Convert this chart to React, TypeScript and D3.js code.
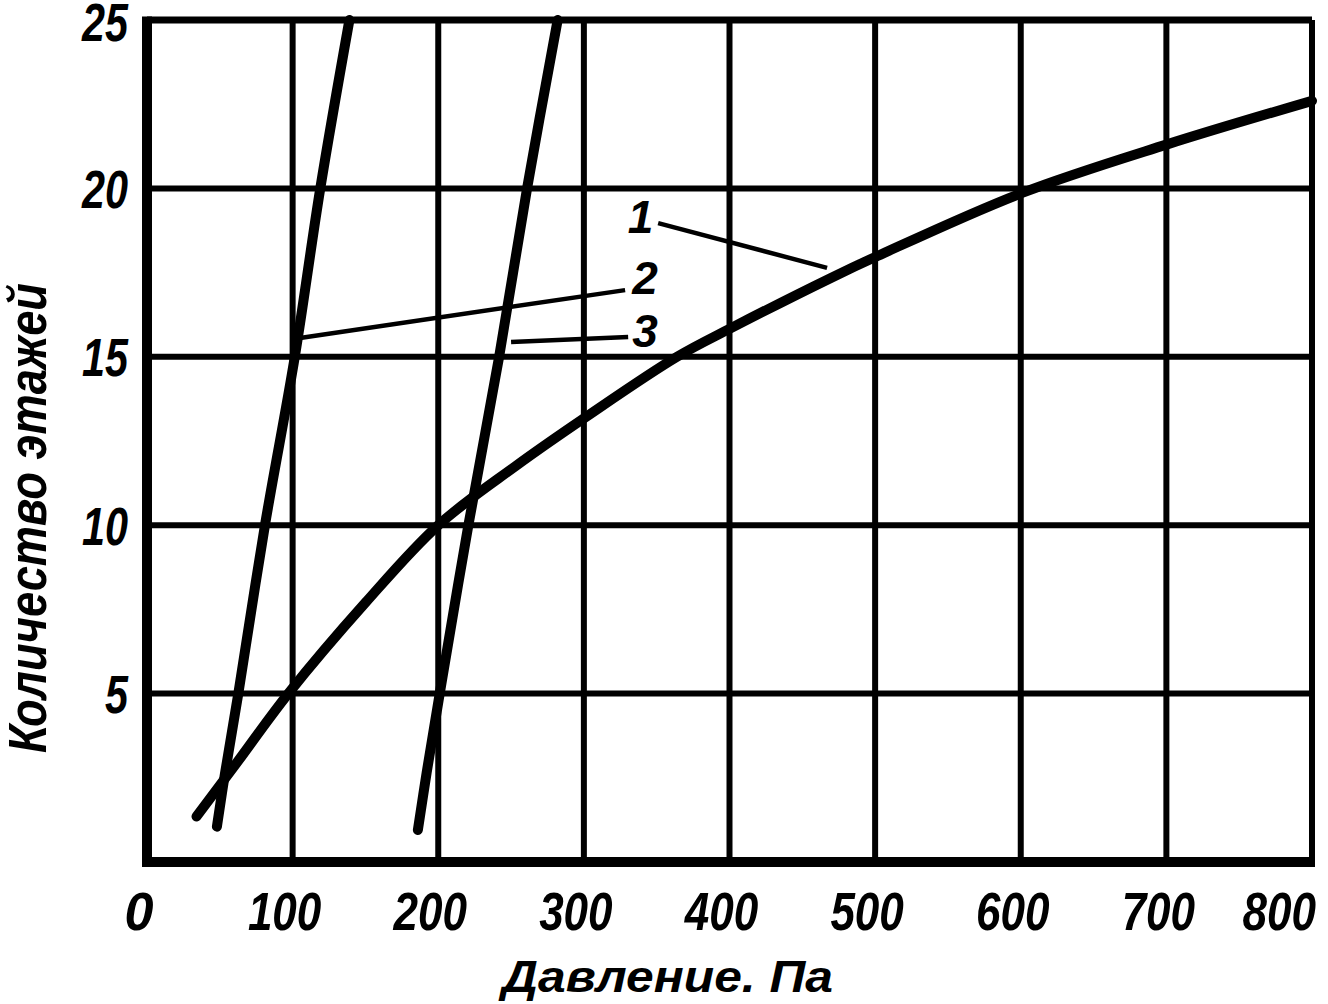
import React from "react";
import * as d3 from "d3";

// ---- data ----
const xTicks = [0, 100, 200, 300, 400, 500, 600, 700, 800];
const yTicks = [5, 10, 15, 20, 25];
const xGrid = [100, 200, 300, 400, 500, 600, 700];
const yGrid = [5, 10, 15, 20];

// curve 1
const c1Pressure = [34, 60, 97, 150, 200, 253, 301, 364, 401, 470, 502, 600, 700, 800];
const c1Floors = [1.35, 2.85, 5, 7.7, 10.0, 11.75, 13.2, 15.0, 15.85, 17.35, 18.0, 19.85, 21.3, 22.6];
// curve 2
const c2Pressure = [48, 53.6, 62.7, 81, 101.5, 119, 139];
const c2Floors = [1.05, 2.64, 5, 10, 15, 20, 25];
// curve 3
const c3Pressure = [186, 192, 201, 220.7, 241.8, 261, 282];
const c3Floors = [0.95, 2.64, 5, 10, 15, 20, 25];

// curve labels and leader lines
const labelNames = ["1", "2", "3"];
const labelPressure = [339, 342, 342];
const labelFloors = [18.68, 16.86, 15.29];
const leaderFromP = [351, 328.3, 330.4];
const leaderFromF = [18.97, 16.98, 15.59];
const leaderToP = [467, 105.1, 250];
const leaderToF = [17.64, 15.56, 15.44];

const xTitle = "Давление. Па";
const yTitle = "Количество этажей";

// ---- layout ----
const W = 1328;
const H = 1004;
const FONT = "'Liberation Sans', Arial, sans-serif";

export default function App() {
  const x = d3.scaleLinear().domain([0, 800]).range([147, 1312]);
  const y = d3.scaleLinear().domain([0, 25]).range([862, 20]);

  const line = d3
    .line<[number, number]>()
    .x((d) => x(d[0]))
    .y((d) => y(d[1]))
    .curve(d3.curveCatmullRom.alpha(0.5));

  const series = [
    d3.zip(c1Pressure, c1Floors) as [number, number][],
    d3.zip(c2Pressure, c2Floors) as [number, number][],
    d3.zip(c3Pressure, c3Floors) as [number, number][],
  ];

  const digitW = 24.5;
  const textStyle = {
    fontFamily: FONT,
    fontWeight: 700,
    fontStyle: "italic" as const,
    fill: "#000",
  };

  return (
    <svg
      width={W}
      height={H}
      viewBox={`0 0 ${W} ${H}`}
      style={{ position: "absolute", left: 0, top: 0, background: "#fff" }}
    >
      <rect x={0} y={0} width={W} height={H} fill="#fff" />
      {/* grid */}
      {xGrid.map((v) => (
        <line key={"gx" + v} x1={x(v)} x2={x(v)} y1={y(0)} y2={y(25)} stroke="#000" strokeWidth={6} />
      ))}
      {yGrid.map((v) => (
        <line key={"gy" + v} x1={x(0)} x2={x(800)} y1={y(v)} y2={y(v)} stroke="#000" strokeWidth={6} />
      ))}
      {/* frame */}
      <line x1={x(0)} x2={x(800)} y1={y(25)} y2={y(25)} stroke="#000" strokeWidth={7} />
      <line x1={x(800)} x2={x(800)} y1={y(0)} y2={y(25)} stroke="#000" strokeWidth={6} />
      <line x1={x(0) - 5} x2={x(800) + 3} y1={y(0)} y2={y(0)} stroke="#000" strokeWidth={10} />
      <line x1={x(0)} x2={x(0)} y1={y(0) + 5} y2={y(25) - 3.5} stroke="#000" strokeWidth={10} />

      {/* curves */}
      {series.map((s, i) => (
        <path
          key={"c" + i}
          d={line(s) || ""}
          fill="none"
          stroke="#000"
          strokeWidth={10}
          strokeLinecap="round"
          strokeLinejoin="round"
        />
      ))}

      {/* leaders */}
      {labelNames.map((n, i) => (
        <line
          key={"ld" + n}
          x1={x(leaderFromP[i])}
          y1={y(leaderFromF[i])}
          x2={x(leaderToP[i])}
          y2={y(leaderToF[i])}
          stroke="#000"
          strokeWidth={4.5}
        />
      ))}
      {labelNames.map((n, i) => (
        <text
          key={"lb" + n}
          x={x(labelPressure[i])}
          y={y(labelFloors[i])}
          textAnchor="middle"
          fontSize={46}
          {...textStyle}
          fontWeight={600}
        >
          {n}
        </text>
      ))}

      {/* x tick labels */}
      {xTicks.map((v) => {
        const s = String(v);
        const w = s.length === 1 ? 29 : s.length * digitW;
        const cx = Math.min(x(v) - 8, 1316 - w / 2);
        return (
          <text
            key={"xt" + v}
            x={cx}
            y={930}
            textAnchor="middle"
            fontSize={54}
            textLength={w}
            lengthAdjust="spacingAndGlyphs"
            {...textStyle}
          >
            {s}
          </text>
        );
      })}

      {/* y tick labels */}
      {yTicks.map((v) => {
        const s = String(v);
        const w = s.length * 23;
        return (
          <text
            key={"yt" + v}
            x={128}
            y={Math.max(y(v) + 19.5, 41)}
            textAnchor="end"
            fontSize={54}
            textLength={w}
            lengthAdjust="spacingAndGlyphs"
            {...textStyle}
          >
            {s}
          </text>
        );
      })}

      {/* axis titles */}
      <text
        x={502}
        y={992}
        fontSize={44}
        textLength={331}
        lengthAdjust="spacingAndGlyphs"
        {...textStyle}
      >
        {xTitle}
      </text>
      <text
        transform="translate(46,518) rotate(-90)"
        textAnchor="middle"
        fontSize={54}
        textLength={470}
        lengthAdjust="spacingAndGlyphs"
        {...textStyle}
      >
        {yTitle}
      </text>
    </svg>
  );
}
